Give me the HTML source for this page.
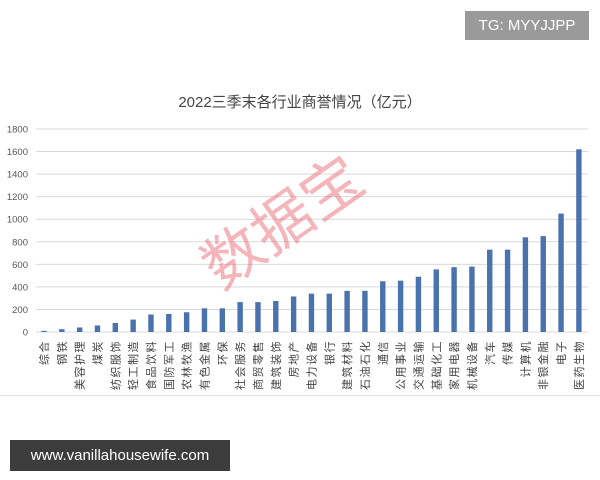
<!DOCTYPE html><html><head><meta charset="utf-8"><style>
body{margin:0;width:600px;height:480px;background:#fff;position:relative;overflow:hidden;font-family:"Liberation Sans","Noto Sans CJK SC",sans-serif}
.tg{position:absolute;left:465px;top:11px;width:124px;height:29px;background:#9a9a9a;color:#fff;font-size:15px;line-height:29px;text-align:center}
.ft{position:absolute;left:10px;top:440px;width:220px;height:31px;background:#3c3c3c;color:#fff;font-size:15px;line-height:31px;text-align:center}
.wm{position:absolute;left:190px;top:175px;font-size:60px;color:rgba(235,110,120,.5);transform:rotate(-35deg);font-family:"Noto Sans CJK SC",sans-serif}
</style></head><body>
<div class="tg">TG: MYYJJPP</div>
<div style="position:absolute;left:0;top:395px;width:600px;height:1px;background:#e6e6e6"></div>
<svg width="600" height="400" style="position:absolute;left:0;top:0" font-family="Liberation Sans,Noto Sans CJK SC,sans-serif">
<text x="300" y="107" text-anchor="middle" font-size="15" fill="#444">2022三季末各行业商誉情况（亿元）</text>
<g id="g"></g>
</svg>
<div class="wm">数据宝</div>
<div class="ft">www.vanillahousewife.com</div>
<script>
var v=[10,25,40,58,80,110,155,160,175,210,210,265,265,275,315,340,340,365,365,450,455,490,555,575,580,730,730,840,850,1050,1620];
var n=["综合","钢铁","美容护理","煤炭","纺织服饰","轻工制造","食品饮料","国防军工","农林牧渔","有色金属","环保","社会服务","商贸零售","建筑装饰","房地产","电力设备","银行","建筑材料","石油石化","通信","公用事业","交通运输","基础化工","家用电器","机械设备","汽车","传媒","计算机","非银金融","电子","医药生物"];
var s='',y0=332,k=203/1800;
for(var i=0;i<=9;i++){var y=y0-i*200*k;s+='<line x1="36" x2="588" y1="'+y+'" y2="'+y+'" stroke="#d9d9d9"/><text x="28" y="'+(y+3.5)+'" text-anchor="end" font-size="9.5" fill="#555">'+(i*200)+'</text>';}
for(var i=0;i<31;i++){var cx=44+i*17.83,h=v[i]*k;s+='<rect x="'+(cx-2.7)+'" y="'+(y0-h)+'" width="5.4" height="'+h+'" fill="#4a72ad"/>';
s+='<text transform="translate('+(cx+4)+',340) rotate(-90)" text-anchor="end" font-size="11" letter-spacing="1.5" fill="#444">'+n[i]+'</text>';}
document.getElementById('g').innerHTML=s;
</script>
</body></html>
